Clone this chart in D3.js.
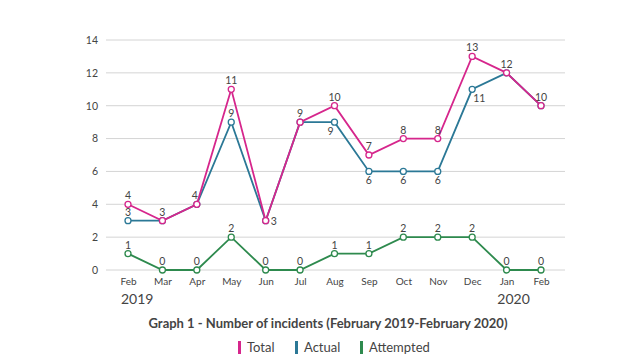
<!DOCTYPE html>
<html>
<head>
<meta charset="utf-8">
<title>Number of incidents</title>
<script src="https://d3js.org/d3.v7.min.js"></script>
<style>
  body { margin: 0; background: #fff; }
  text { font-family: Lato, "DejaVu Sans", sans-serif; fill: #444; }
</style>
</head>
<body>
<div id="chart"></div>
<script>
// months along the x axis
var months = ["Feb", "Mar", "Apr", "May", "Jun", "Jul", "Aug", "Sep", "Oct", "Nov", "Dec", "Jan", "Feb"];
var yearLabels = ["2019", "2020"];
var yTicks = [0, 2, 4, 6, 8, 10, 12, 14];

// series values
var total     = [4, 3, 4, 11, 3, 9, 10, 7, 8, 8, 13, 12, 10];
var actual    = [3, 3, 4, 9, 3, 9, 9, 6, 6, 6, 11, 12, 10];
var attempted = [1, 0, 0, 2, 0, 0, 1, 1, 2, 2, 2, 0, 0];

// where each value label goes (null = not shown, the other line already labels it)
var totalPos  = ["up", "up", "upleft", "up", "right", "up", "up", "up", "up", "up", "up", "up", "up"];
var actualPos = ["up", null, null, "up", null, null, "downleft", "down", "down", "down", "downright", null, null];
var attPos    = ["up", "up", "up", "up", "up", "up", "up", "up", "up", "up", "up", "up", "up"];

var W = 643, H = 361;
var svg = d3.select("#chart").append("svg").attr("width", W).attr("height", H);

var x = d3.scalePoint().domain(d3.range(months.length)).range([128, 541]);
var y = d3.scaleLinear().domain([0, 14]).range([270, 40]);

// grid lines
svg.append("g").selectAll("line").data(yTicks).enter().append("line")
  .attr("x1", 106).attr("x2", 565)
  .attr("y1", function(d) { return y(d); }).attr("y2", function(d) { return y(d); })
  .attr("stroke", "#d4d4d4").attr("stroke-width", 1);

// y axis labels
var yAxis = svg.append("g").attr("transform", "translate(98,0)")
  .call(d3.axisLeft(y).tickValues(yTicks).tickSize(0).tickPadding(0));
yAxis.select(".domain").remove();
yAxis.selectAll("text").style("font-family", "Lato, sans-serif").style("font-size", "10.5px").attr("fill", "#444");

// x axis labels
var xAxis = svg.append("g").attr("transform", "translate(0,278)")
  .call(d3.axisBottom(x).tickFormat(function(i) { return months[i]; }).tickSize(0).tickPadding(0));
xAxis.select(".domain").remove();
xAxis.selectAll("text").style("font-family", "Lato, sans-serif").style("font-size", "10px").attr("fill", "#444");

// years
svg.append("text").attr("x", x(0) - 7).attr("y", 304).attr("text-anchor", "start")
  .style("font-size", "14px").attr("fill", "#333").text(yearLabels[0]);
svg.append("text").attr("x", x(11) + 7).attr("y", 304).attr("text-anchor", "middle")
  .style("font-size", "14px").attr("fill", "#333").text(yearLabels[1]);

var line = d3.line().x(function(d, i) { return x(i); }).y(function(d) { return y(d); });

function drawSeries(values, color, pos) {
  var g = svg.append("g");
  g.append("path").datum(values)
    .attr("fill", "none").attr("stroke", color).attr("stroke-width", 1.8)
    .attr("d", line);
  g.selectAll("circle").data(values).enter().append("circle")
    .attr("cx", function(d, i) { return x(i); })
    .attr("cy", function(d) { return y(d); })
    .attr("r", 3).attr("fill", "#fff").attr("stroke", color).attr("stroke-width", 1.3);

  var labels = values.map(function(v, i) { return { v: v, i: i, p: pos[i] }; })
    .filter(function(d) { return d.p != null; });
  g.selectAll("text.lbl").data(labels).enter().append("text").attr("class", "lbl")
    .style("font-size", "10.5px").attr("fill", "#444")
    .attr("text-anchor", function(d) {
      if (d.p == "right" || d.p == "downright") return "start";
      if (d.p == "downleft" || d.p == "upleft") return "end";
      return "middle";
    })
    .attr("x", function(d) {
      if (d.p == "right") return x(d.i) + 5;
      if (d.p == "downright") return x(d.i) + 1;
      if (d.p == "downleft") return x(d.i) - 1;
      if (d.p == "upleft") return x(d.i) + 1;
      return x(d.i);
    })
    .attr("y", function(d) {
      if (d.p == "right") return y(d.v) + 4;
      if (d.p == "up" || d.p == "upleft") return y(d.v) - 5;
      return y(d.v) + 13;
    })
    .text(function(d) { return d.v; });
}

drawSeries(actual, "#2b7896", actualPos);
drawSeries(total, "#d6268c", totalPos);
drawSeries(attempted, "#2e8a4e", attPos);

// title
svg.append("text").attr("x", 328).attr("y", 328).attr("text-anchor", "middle")
  .style("font-size", "13px").style("font-weight", "bold").attr("fill", "#222")
  .text("Graph 1 - Number of incidents (February 2019-February 2020)");

// legend
var legend = [
  { name: "Total", color: "#d6268c", x: 238 },
  { name: "Actual", color: "#2b7896", x: 295 },
  { name: "Attempted", color: "#2e8a4e", x: 360 }
];
var lg = svg.append("g").selectAll("g").data(legend).enter().append("g")
  .attr("transform", function(d) { return "translate(" + d.x + ",341)"; });
lg.append("rect").attr("width", 3).attr("height", 13).attr("fill", function(d) { return d.color; });
lg.append("text").attr("x", 9).attr("y", 11).style("font-size", "13px").attr("fill", "#333")
  .text(function(d) { return d.name; });
</script>
</body>
</html>
